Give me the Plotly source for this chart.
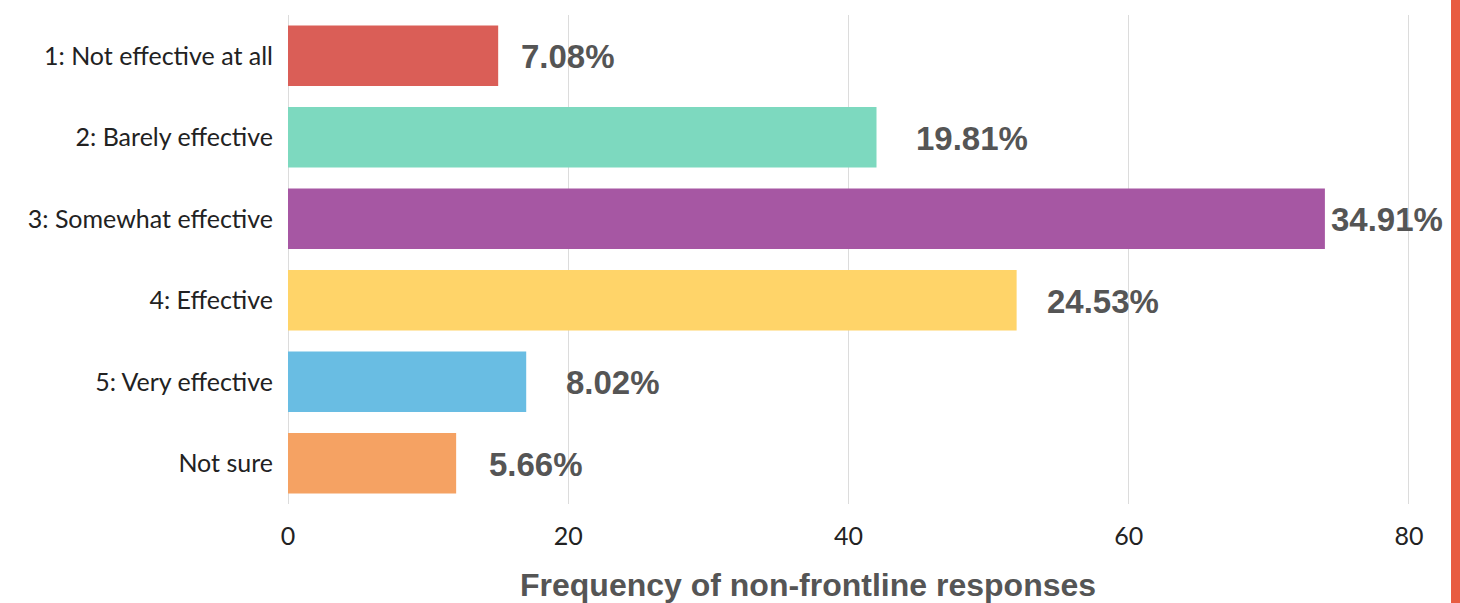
import plotly.graph_objects as go

categories = ["1: Not effective at all", "2: Barely effective", "3: Somewhat effective",
              "4: Effective", "5: Very effective", "Not sure"]
counts = [15, 42, 74, 52, 17, 12]
percent_labels = ["7.08%", "19.81%", "34.91%", "24.53%", "8.02%", "5.66%"]
colors = ["#DA5E57", "#7DD9BF", "#A657A3", "#FFD469", "#69BDE3", "#F5A263"]
tick_vals = [0, 20, 40, 60, 80]
label_shift = [21, 37, 4, 28, 38, 31]

# body margin is removed below -> figure coordinates = screen coordinates
W, H = 1460, 603
ml, mr, mt, mb = 288, 23, 15, 99
pw = W - ml - mr
ph = H - mt - mb

fig = go.Figure(go.Bar(
    y=categories, x=counts, orientation="h",
    marker=dict(color=colors, line=dict(width=0)),
    width=0.74, hoverinfo="skip",
))

for c, v, t, s in zip(categories, counts, percent_labels, label_shift):
    fig.add_annotation(x=v, y=c, text=t, showarrow=False, xanchor="left",
                       xshift=s, yshift=-1, font=dict(family="Liberation Sans, Arial", size=33,
                                           color="#555555", weight="bold"))

fig.add_annotation(xref="paper", yref="paper", x=(808 - ml) / pw, y=-(585 - (H - mb)) / ph,
                   text="Frequency of non-frontline responses", showarrow=False,
                   xanchor="center", yanchor="middle",
                   font=dict(family="Liberation Sans, Arial", size=32, color="#555555", weight="bold"))

fig.add_shape(type="rect", xref="paper", yref="paper",
              x0=(1451 - ml) / pw, x1=(1462 - ml) / pw,
              y0=-1, y1=2, fillcolor="#E85C41", line=dict(width=0), layer="above")

fig.update_layout(
    width=W, height=H, margin=dict(l=ml, r=mr, t=mt, b=mb),
    plot_bgcolor="white", paper_bgcolor="white", showlegend=False,
    xaxis=dict(range=[0, 82], tickvals=tick_vals, showgrid=True, gridcolor="#DCDCDC",
               gridwidth=1, zeroline=True, zerolinecolor="#DCDCDC", zerolinewidth=1,
               ticks="", tickfont=dict(family="Lato, sans-serif", size=25, color="#222222"),
               ticklabelstandoff=15, fixedrange=True),
    yaxis=dict(categoryorder="array", categoryarray=categories[::-1], ticks="",
               tickfont=dict(family="Lato, sans-serif", size=25, color="#222222"),
               ticklabelstandoff=14, showgrid=False, fixedrange=True),
)

fig.write_html("out.html", config={"displayModeBar": False}, post_script=(
    "document.documentElement.style.overflow='hidden';"
    "document.body.style.overflow='hidden';"
    "document.body.style.margin='0';"))
